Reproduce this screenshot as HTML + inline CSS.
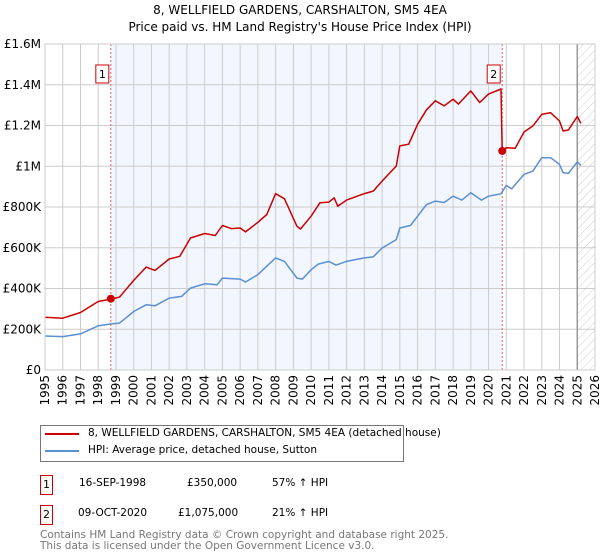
<!DOCTYPE html>
<html><head><meta charset="utf-8"><style>
body{margin:0;background:#fff;font-family:"DejaVu Sans","Liberation Sans",sans-serif;}
#wrap{position:relative;width:600px;height:560px;overflow:hidden}
.t{position:absolute;font-size:11px;color:#000;white-space:nowrap}
svg text{font-family:"DejaVu Sans","Liberation Sans",sans-serif}
</style></head><body>
<div id="wrap">
<svg id="chart" width="600" height="420" style="position:absolute;left:0;top:0"></svg>
<div class="t" style="left:0;width:600px;text-align:center;top:3px;font-size:12px">8, WELLFIELD GARDENS, CARSHALTON, SM5 4EA</div>
<div class="t" style="left:0;width:600px;text-align:center;top:20px;font-size:12px">Price paid vs. HM Land Registry's House Price Index (HPI)</div>
<div style="position:absolute;left:40px;top:425px;width:362px;height:35px;border:1px solid #777"></div>
<div style="position:absolute;left:45px;top:433px;width:34px;height:2px;background:#cc0000"></div>
<div class="t" style="left:88px;top:427px;font-size:10.5px">8, WELLFIELD GARDENS, CARSHALTON, SM5 4EA (detached house)</div>
<div style="position:absolute;left:45px;top:450px;width:34px;height:2px;background:#5b8fd4"></div>
<div class="t" style="left:88px;top:444px;font-size:10.5px">HPI: Average price, detached house, Sutton</div>
<div style="position:absolute;left:40px;top:475px;width:11px;height:18px;border:1px solid #cc0000;font-size:11px;text-align:center;line-height:18px">1</div>
<div class="t" style="left:79px;top:477px;font-size:10.5px">16-SEP-1998</div>
<div class="t" style="left:187px;top:477px;font-size:10.5px">£350,000</div>
<div class="t" style="left:272px;top:477px;font-size:10.5px">57% ↑ HPI</div>
<div style="position:absolute;left:40px;top:505px;width:11px;height:18px;border:1px solid #cc0000;font-size:11px;text-align:center;line-height:18px">2</div>
<div class="t" style="left:78px;top:507px;font-size:10.5px">09-OCT-2020</div>
<div class="t" style="left:178px;top:507px;font-size:10.5px">£1,075,000</div>
<div class="t" style="left:272px;top:507px;font-size:10.5px">21% ↑ HPI</div>
<div class="t" style="left:40px;top:530px;font-size:10.5px;color:#777;line-height:11px">Contains HM Land Registry data © Crown copyright and database right 2025.<br>This data is licensed under the Open Government Licence v3.0.</div>
</div>
<script>
const hpiYears=[1995,1996,1997,1998,1998.7,1999.2,2000,2000.7,2001.2,2002,2002.7,2003.2,2004,2004.7,2005,2006,2006.3,2007,2008,2008.5,2009.2,2009.5,2010,2010.4,2011,2011.4,2012,2013,2013.5,2014,2014.8,2015,2015.6,2016,2016.5,2017,2017.5,2018,2018.5,2019,2019.6,2020,2020.7,2021,2021.3,2022,2022.5,2023,2023.5,2024,2024.2,2024.5,2025,2025.2];
const hpiValues=[167,164,177,217,226,230,287,320,315,353,361,402,423,418,451,446,432,468,550,533,451,446,492,520,533,515,533,550,555,599,640,697,709,755,812,829,822,853,834,870,834,853,865,906,889,960,976,1042,1042,1009,968,965,1022,1004];
const propYears=[1995,1996,1997,1998,1998.71,1999.2,2000,2000.7,2001.2,2002,2002.6,2003.2,2004,2004.6,2005,2005.5,2006,2006.3,2007,2007.5,2008,2008.5,2009.2,2009.4,2010,2010.5,2011,2011.3,2011.5,2012,2013,2013.5,2014,2014.8,2015,2015.5,2016,2016.5,2017,2017.5,2018,2018.3,2019,2019.5,2020,2020.7,2020.77,2021,2021.5,2022,2022.5,2023,2023.5,2024,2024.2,2024.5,2025,2025.2];
const propValues=[259,254,282,336,348,358,440,505,489,545,558,648,670,660,709,694,697,678,725,763,866,840,706,692,755,821,824,845,804,834,866,878,927,1001,1100,1108,1206,1277,1321,1296,1329,1305,1370,1313,1354,1379,1075,1091,1088,1168,1198,1255,1263,1222,1173,1178,1244,1211];
const saleYears=[1998.71,2020.77];
const saleValues=[350,1075];
const saleLabels=["1","2"];
const yTicks=[0,200,400,600,800,1000,1200,1400,1600];
const yTickLabels=["£0","£200K","£400K","£600K","£800K","£1M","£1.2M","£1.4M","£1.6M"];
const xTicks=[1995,1996,1997,1998,1999,2000,2001,2002,2003,2004,2005,2006,2007,2008,2009,2010,2011,2012,2013,2014,2015,2016,2017,2018,2019,2020,2021,2022,2023,2024,2025,2026];

const L=45,R=595,T=44,B=370,X0=1995,X1=2026,YMAX=1600;
const sx=y=>L+(y-X0)/(X1-X0)*(R-L);
const sy=v=>B-v/YMAX*(B-T);
const svg=document.getElementById('chart');
const NS='http://www.w3.org/2000/svg';
function mk(tag,attrs){const e=document.createElementNS(NS,tag);for(const k in attrs)e.setAttribute(k,attrs[k]);svg.appendChild(e);return e;}

const defs=mk('defs',{});
defs.innerHTML='<pattern id="hatch" width="6" height="6" patternUnits="userSpaceOnUse" patternTransform="rotate(45)"><line x1="0" y1="0" x2="0" y2="6" stroke="#ccc" stroke-width="1"/></pattern>';

let band=mk('rect',{x:sx(saleYears[0]),y:T,width:sx(saleYears[1])-sx(saleYears[0]),height:B-T,fill:'#f2f6fe'});


let hatch=mk('rect',{x:sx(2025),y:T,width:sx(X1)-sx(2025),height:B-T,fill:'url(#hatch)'});



yTicks.forEach((v,i)=>{
 let g=mk('line',{x1:L,x2:R,y1:sy(v),y2:sy(v),stroke:'#ccc','stroke-width':1});
 
 
 let t=mk('text',{x:L-4,y:sy(v)+4,'text-anchor':'end','font-size':12,fill:'#000'});
 t.textContent=yTickLabels[i];
 
 
});
xTicks.forEach(y=>{
 let g=mk('line',{x1:sx(y),x2:sx(y),y1:T,y2:B,stroke:'#ccc','stroke-width':1});
 
 
 let t=mk('text',{x:0,y:0,'text-anchor':'end','font-size':12,fill:'#000',transform:`translate(${sx(y)+4},${B+5}) rotate(-90)`});
 t.textContent=y;
 
 
});
let nowLine=mk('line',{x1:sx(2025),x2:sx(2025),y1:T,y2:B,stroke:'#999','stroke-width':1.5});



saleYears.forEach((y,i)=>{
 let l=mk('line',{x1:sx(y),x2:sx(y),y1:T,y2:B,stroke:'#e06060','stroke-width':1,'stroke-dasharray':'2,2'});
 
 
});

function path(xs,vs,color,name){
 let d=xs.map((x,i)=>(i?'L':'M')+sx(x).toFixed(1)+','+sy(vs[i]).toFixed(1)).join('');
 let p=mk('path',{d,fill:'none',stroke:color,'stroke-width':1.5,'stroke-linejoin':'round'});
 
 
}
path(hpiYears,hpiValues,'#5b8fd4','hpi-line');
path(propYears,propValues,'#cc0000','property-price-line');

saleYears.forEach((y,i)=>{
 let c=mk('circle',{cx:sx(y),cy:sy(saleValues[i]),r:4,fill:'#cc0000'});
 
 
 let bx=sx(y)-15, by=65;
 let r=mk('rect',{x:bx,y:by,width:13,height:18,fill:'#fff',stroke:'#cc0000','stroke-width':1});
 
 
 let t=mk('text',{x:bx+6.5,y:by+13,'text-anchor':'middle','font-size':11,fill:'#000'});
 t.textContent=saleLabels[i];
 
 
});
let frame=mk('rect',{x:L,y:T,width:R-L,height:B-T,fill:'none',stroke:'#ccc','stroke-width':1});


</script>
</body></html>
